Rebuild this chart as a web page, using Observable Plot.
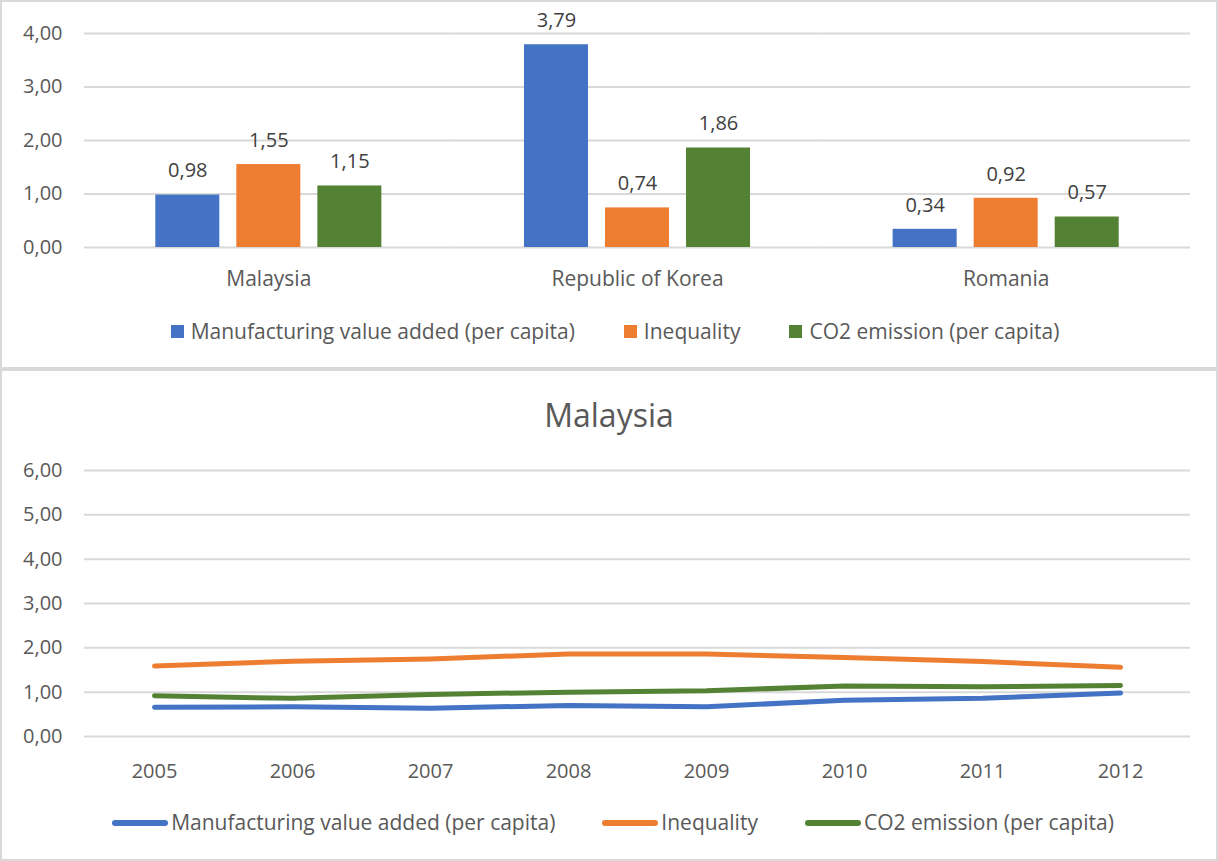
<!DOCTYPE html>
<html>
<head>
<meta charset="utf-8">
<script src="https://cdn.jsdelivr.net/npm/d3@7"></script>
<script src="https://cdn.jsdelivr.net/npm/@observablehq/plot@0.6"></script>
<style>
  html, body { margin: 0; padding: 0; background: #fff; }
  body { width: 1218px; height: 861px; position: relative; overflow: hidden; font-family: "Open Sans", sans-serif; color: #595959; }
  .panel { position: absolute; left: 0; width: 1214px; border: 2px solid #d9d9d9; box-sizing: content-box; }
  .abs { position: absolute; }
  .legend { position: absolute; left: 0; width: 1218px; display: flex; justify-content: center; align-items: center; font-size: 21px; line-height: 29px; color: #595959; white-space: nowrap; }
  .legend .item { display: flex; align-items: center; }
  .sq { width: 13px; height: 13px; margin-right: 7px; }
  .ln { width: 56px; height: 6px; border-radius: 3px; margin-right: 3px; }
  .title { position: absolute; left: 0; width: 1218px; text-align: center; font-size: 32px; line-height: 44px; color: #595959; }
</style>
</head>
<body>
<div class="panel" style="top:0;height:365px;"></div>
<div class="panel" style="top:369px;height:488px;"></div>
<div id="topChart" class="abs" style="left:0;top:0;"></div>
<div id="legend1" class="legend" style="top:317px;left:6px;"></div>
<div class="title" style="top:393px;">Malaysia</div>
<div id="bottomChart" class="abs" style="left:0;top:440px;"></div>
<div id="legend2" class="legend" style="top:808px;left:4px;"></div>
<script>
// ---- data ----
const series = ["Manufacturing value added (per capita)", "Inequality", "CO2 emission (per capita)"];
const colors = ["#4472C4", "#ED7D31", "#548235"];

const countries = ["Malaysia", "Republic of Korea", "Romania"];
const manufacturingByCountry = [0.98, 3.79, 0.34];
const inequalityByCountry = [1.55, 0.74, 0.92];
const co2ByCountry = [1.15, 1.86, 0.57];

const years = ["2005", "2006", "2007", "2008", "2009", "2010", "2011", "2012"];
const malaysiaManufacturing = [0.66, 0.67, 0.64, 0.70, 0.67, 0.82, 0.86, 0.98];
const malaysiaInequality = [1.59, 1.70, 1.75, 1.86, 1.86, 1.78, 1.69, 1.56];
const malaysiaCO2 = [0.92, 0.86, 0.95, 1.00, 1.03, 1.14, 1.12, 1.15];

const yTicksTop = [0, 1, 2, 3, 4];
const yTicksBottom = [0, 1, 2, 3, 4, 5, 6];

// ---- tables ----
const barSeries = [manufacturingByCountry, inequalityByCountry, co2ByCountry];
const bars = [];
countries.forEach((c, i) => series.forEach((s, j) => bars.push({country: c, series: s, value: barSeries[j][i]})));

const lineSeries = [malaysiaManufacturing, malaysiaInequality, malaysiaCO2];
const lines = [];
series.forEach((s, j) => years.forEach((y, i) => lines.push({year: y, series: s, value: lineSeries[j][i]})));

const fmt = v => d3.format(".2f")(v).replace(".", ",");
const font = {fontFamily: "'Open Sans', sans-serif", fontSize: "20px", color: "#595959", background: "transparent", overflow: "visible"};

// ---- top bar chart ----
const barChart = Plot.plot({
  width: 1218, height: 300,
  marginLeft: 84, marginRight: 28, marginTop: 33, marginBottom: 53,
  style: font,
  fx: {domain: countries, padding: 0, round: false, label: null, axis: null},
  x: {domain: series, paddingInner: 0.21, paddingOuter: 0.88, round: false, axis: null},
  y: {domain: [0, 4], ticks: yTicksTop, label: null},
  color: {domain: series, range: colors},
  marks: [
    Plot.gridY(yTicksTop, {stroke: "#d9d9d9", strokeOpacity: 1, strokeWidth: 2}),
    Plot.axisY(yTicksTop, {tickSize: 0, tickPadding: 22, tickFormat: fmt, label: null}),
    Plot.axisFx({anchor: "bottom", tickSize: 0, tickPadding: 24, label: null, fontSize: 21}),
    Plot.barY(bars, {fx: "country", x: "series", y: "value", fill: "series"}),
    Plot.text(bars, {fx: "country", x: "series", y: "value", text: d => fmt(d.value), dy: -24, lineAnchor: "middle", fill: "#404040", fontSize: 20})
  ]
});
document.getElementById("topChart").appendChild(barChart);

// ---- bottom line chart ----
const lineChart = Plot.plot({
  width: 1218, height: 360,
  marginLeft: 84, marginRight: 28, marginTop: 30, marginBottom: 64,
  style: font,
  x: {type: "point", domain: years, padding: 0.5, label: null},
  y: {domain: [0, 6], ticks: yTicksBottom, label: null},
  color: {domain: series, range: colors},
  marks: [
    Plot.gridY(yTicksBottom, {stroke: "#d9d9d9", strokeOpacity: 1, strokeWidth: 2}),
    Plot.axisY(yTicksBottom, {tickSize: 0, tickPadding: 22, tickFormat: fmt, label: null}),
    Plot.axisX({tickSize: 0, tickPadding: 27, label: null}),
    Plot.lineY(lines, {x: "year", y: "value", stroke: "series", strokeWidth: 5, strokeLinecap: "round", strokeLinejoin: "round"})
  ]
});
document.getElementById("bottomChart").appendChild(lineChart);

// ---- legends ----
function legend(id, cls, gaps) {
  const el = document.getElementById(id);
  series.forEach((s, i) => {
    const item = document.createElement("div");
    item.className = "item";
    if (i > 0) item.style.marginLeft = gaps + "px";
    const sw = document.createElement("div");
    sw.className = cls;
    sw.style.background = colors[i];
    item.appendChild(sw);
    const t = document.createElement("span");
    t.textContent = s;
    item.appendChild(t);
    el.appendChild(item);
  });
}
legend("legend1", "sq", 49);
legend("legend2", "ln", 47);
</script>
</body>
</html>
